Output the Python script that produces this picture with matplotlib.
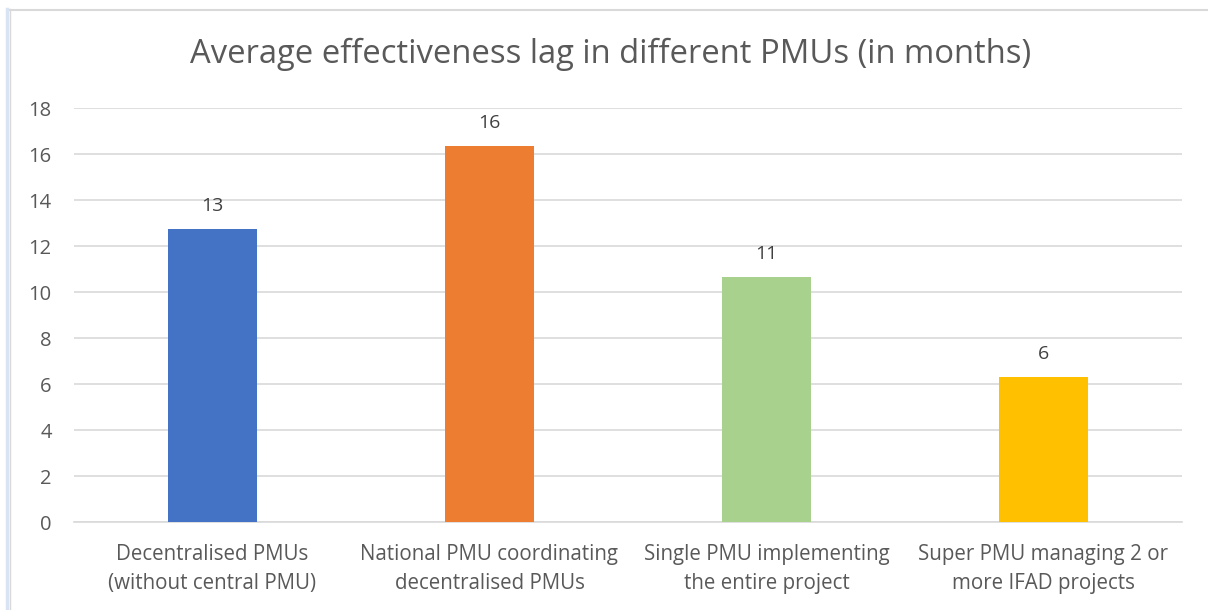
import matplotlib
matplotlib.use("Agg")
import matplotlib.pyplot as plt
from matplotlib.lines import Line2D

plt.rcParams['font.family'] = ['Open Sans', 'DejaVu Sans']

categories = [
    "Decentralised PMUs\n(without central PMU)",
    "National PMU coordinating\ndecentralised PMUs",
    "Single PMU implementing\nthe entire project",
    "Super PMU managing 2 or\nmore IFAD projects",
]
lag_months = [12.75, 16.35, 10.65, 6.3]
bar_colors = ["#4472C4", "#ED7D31", "#A9D18E", "#FFC000"]
y_ticks = [0, 2, 4, 6, 8, 10, 12, 14, 16, 18]
title = "Average effectiveness lag in different PMUs (in months)"

W, H = 1208, 610
fig = plt.figure(figsize=(W / 100, H / 100), dpi=100)
ax = fig.add_axes([74 / W, 1 - 522 / H, (1182 - 74) / W, (522 - 108) / H])

x = list(range(len(categories)))
bars = ax.bar(x, lag_months, width=0.318, color=bar_colors, zorder=3)

text_gray = "#595959"
for b, v in zip(bars, lag_months):
    ax.annotate(f"{v:.0f}", (b.get_x() + b.get_width() / 2, v),
                xytext=(0, 16.5), textcoords="offset points",
                ha="center", va="center", fontsize=14, color="#404040")

ax.set_xlim(-0.5, len(categories) - 0.5)
ax.set_ylim(0, 18)
ax.set_yticks(y_ticks)
ax.set_xticks(x)
ax.set_xticklabels(categories, fontsize=14.8, color=text_gray, linespacing=1.5)
ax.tick_params(axis="y", length=0, pad=16, labelsize=14.5, labelcolor=text_gray)
ax.tick_params(axis="x", length=0, pad=16)
ax.grid(axis="y", color="#d9d9d9", linewidth=1.2, zorder=0)
for s in ["top", "right", "left"]:
    ax.spines[s].set_visible(False)
ax.spines["bottom"].set_color("#d9d9d9")
ax.spines["bottom"].set_linewidth(1.2)

fig.text(611 / W, 1 - 54 / H, title, ha="center", va="center",
         fontsize=23.6, color=text_gray)

# chart frame edges
fig.add_artist(Line2D([8 / W, 1], [1 - 9.5 / H, 1 - 9.5 / H],
                      color="#d9d9d9", linewidth=1.5))
fig.add_artist(Line2D([7.5 / W, 7.5 / W], [0, 1 - 9 / H],
                      color="#dae3f3", linewidth=2.5))
fig.add_artist(Line2D([9.5 / W, 9.5 / W], [0, 1 - 9 / H],
                      color="#d9d9d9", linewidth=1.0))

# caption of the document above the chart
fig.text(150 / W, 1 + 11 / H, "Figure 5: PMU type", ha="left", va="baseline",
         fontsize=13, fontweight="bold", color="black")

fig.savefig("out.png", dpi=100, facecolor="white")
